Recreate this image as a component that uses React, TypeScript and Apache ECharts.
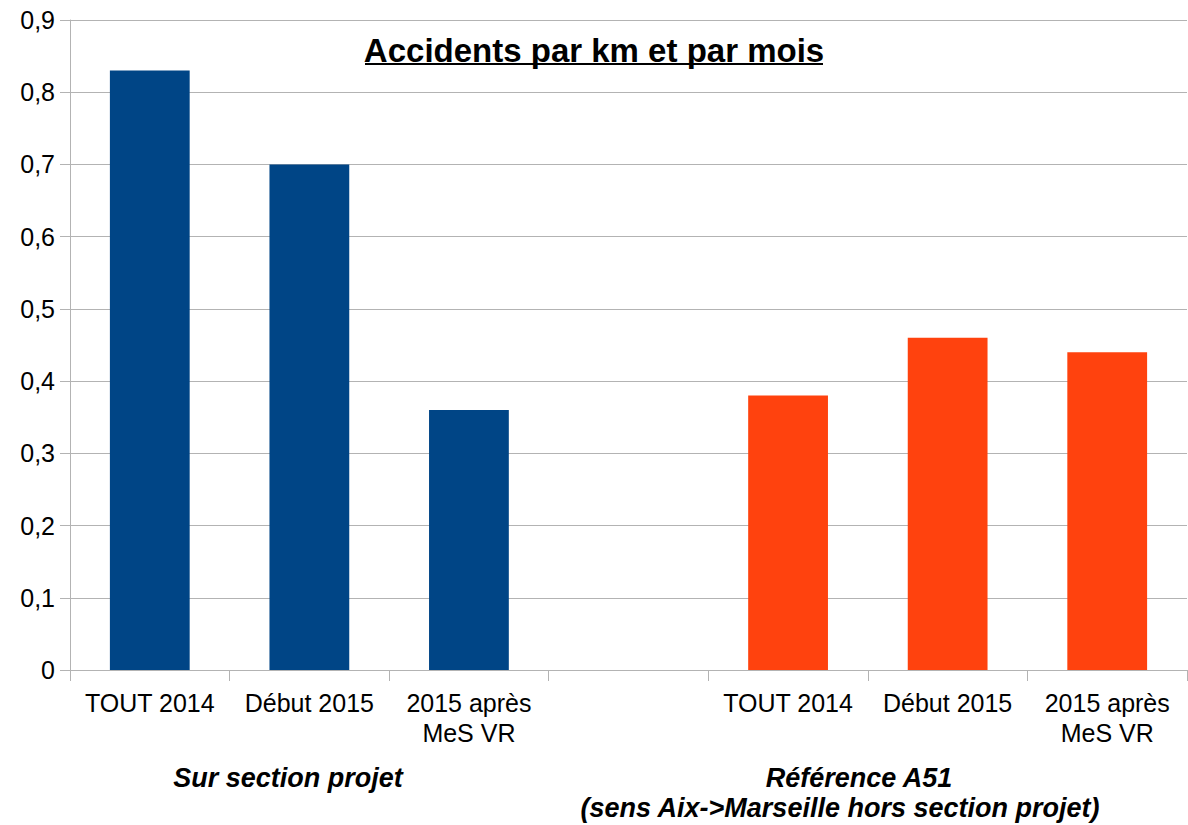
import React, { useEffect, useRef } from "react";
import * as echarts from "echarts";

const categories = [
  "TOUT 2014",
  "Début 2015",
  "2015 après\nMeS VR",
  "",
  "TOUT 2014",
  "Début 2015",
  "2015 après\nMeS VR",
];
const values: (number | null)[] = [0.83, 0.7, 0.36, null, 0.38, 0.46, 0.44];
const barColors = ["#004586", "#004586", "#004586", "#004586", "#ff420e", "#ff420e", "#ff420e"];
const titleText = "Accidents par km et par mois";
const groupLabel1 = "Sur section projet";
const groupLabel2 = "Référence A51";
const groupLabel2b = "(sens Aix->Marseille hors section projet)";

const FONT = "'Liberation Sans', Arial, sans-serif";

export default function App() {
  const ref = useRef<HTMLDivElement>(null);
  useEffect(() => {
    document.body.style.margin = "0";
    const chart = echarts.init(ref.current!, undefined, { renderer: "svg" });
    const groupStyle = {
      fontFamily: FONT,
      fontSize: 27,
      fontWeight: "bold",
      fontStyle: "italic",
      fill: "#000",
      align: "center",
      verticalAlign: "middle",
    };
    chart.setOption({
      animation: false,
      backgroundColor: "#ffffff",
      grid: { left: 70, right: 1, top: 20, bottom: 155, containLabel: false },
      title: {
        text: titleText,
        left: "center",
        top: 29,
        textStyle: { fontFamily: FONT, fontSize: 33, fontWeight: "bold", color: "#000" },
      },
      xAxis: {
        type: "category",
        data: categories,
        boundaryGap: true,
        axisLine: { show: true, lineStyle: { color: "#b3b3b3", width: 1 } },
        axisTick: { show: true, length: 11, interval: 0, lineStyle: { color: "#b3b3b3" } },
        axisLabel: {
          interval: 0,
          margin: 18,
          fontFamily: FONT,
          fontSize: 25,
          color: "#000",
          lineHeight: 30,
        },
      },
      yAxis: {
        type: "value",
        min: 0,
        max: 0.9,
        interval: 0.1,
        axisLine: { show: true, lineStyle: { color: "#b3b3b3", width: 1 } },
        axisTick: { show: true, length: 10, lineStyle: { color: "#b3b3b3" } },
        splitLine: { show: true, lineStyle: { color: "#b3b3b3", width: 1 } },
        axisLabel: {
          margin: 15,
          fontFamily: FONT,
          fontSize: 25,
          color: "#000",
          formatter: (v: number) => (Math.round(v * 10) / 10).toString().replace(".", ","),
        },
      },
      series: [
        {
          type: "bar",
          barWidth: "50%",
          data: values.map((v, i) =>
            v === null ? "-" : { value: v, itemStyle: { color: barColors[i] } }
          ),
        },
      ],
      graphic: [
        {
          type: "line",
          shape: { x1: 365, y1: 64, x2: 823, y2: 64 },
          style: { stroke: "#000", lineWidth: 2 },
        },
        { type: "text", x: 288, y: 778, style: { ...groupStyle, text: groupLabel1 } },
        { type: "text", x: 859, y: 778, style: { ...groupStyle, text: groupLabel2 } },
        { type: "text", x: 840, y: 808, style: { ...groupStyle, text: groupLabel2b } },
      ],
    });
    return () => chart.dispose();
  }, []);
  return <div ref={ref} style={{ width: 1188, height: 825 }} />;
}
